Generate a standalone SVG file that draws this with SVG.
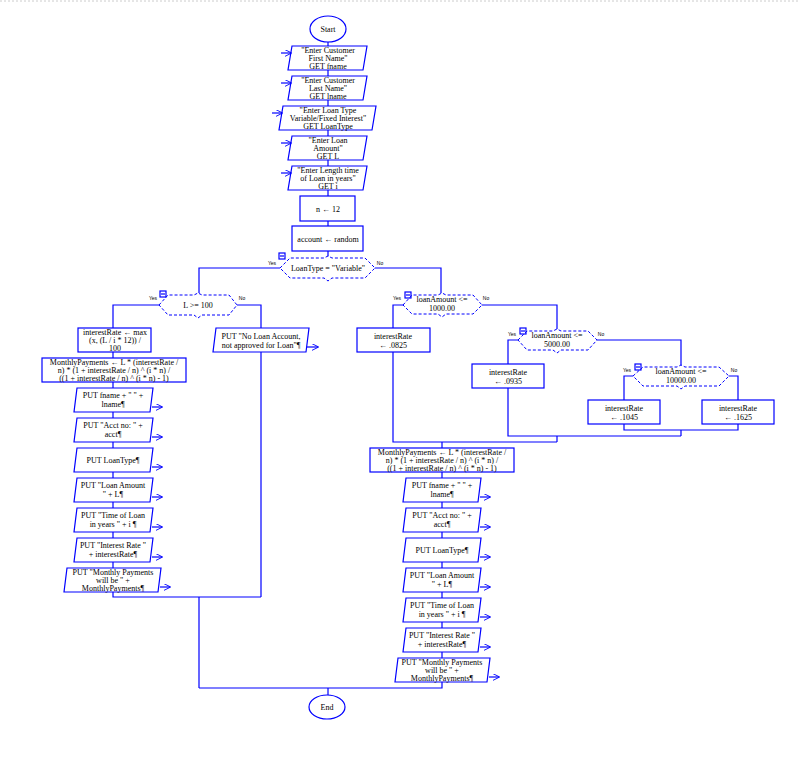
<svg xmlns="http://www.w3.org/2000/svg" width="798" height="758" viewBox="0 0 798 758">
<defs>
<marker id="ar" viewBox="0 0 10 10" refX="9" refY="5" markerWidth="7" markerHeight="7" orient="auto" markerUnits="userSpaceOnUse"><path d="M0,0 L10,5 L0,10" fill="none" stroke="#00f" stroke-width="1.3"/></marker>
</defs>
<style>
.s{fill:#fff;stroke:#00f;stroke-width:1.2}
.d{fill:#fff;stroke:#00f;stroke-width:1;stroke-dasharray:3,2}
.c{fill:none;stroke:#00f;stroke-width:1.2}
.io{fill:none;stroke:#00f;stroke-width:1.2;marker-end:url(#ar)}
text{font-family:"Liberation Serif",serif;font-size:8px;fill:#000;text-anchor:middle}
.yn{font-family:"Liberation Sans",sans-serif;font-size:5px}
</style>
<rect x="0" y="0" width="798" height="758" fill="#fff"/>
<line x1="0" y1="1" x2="798" y2="1" stroke="#ccc" stroke-dasharray="2,2"/>
<g id="start"><ellipse class="s" cx="328" cy="29" rx="18" ry="13"/><text x="328" y="32">Start</text></g>
<g id="in1"><polygon class="s" points="292,46 367,46 363,70 288,70"/><text x="328" y="53">"Enter Customer</text><text x="328" y="61">First Name"</text><text x="328" y="69">GET fname</text></g>
<g id="in2"><polygon class="s" points="292,76 367,76 363,100 288,100"/><text x="328" y="83">"Enter Customer</text><text x="328" y="91">Last Name"</text><text x="328" y="99">GET lname</text></g>
<g id="in3"><polygon class="s" points="283,106 376,106 372,130 279,130"/><text x="328" y="113">"Enter Loan Type</text><text x="328" y="121">Variable/Fixed Interest"</text><text x="328" y="129">GET LoanType</text></g>
<g id="in4"><polygon class="s" points="292,136 367,136 363,160 288,160"/><text x="328" y="143">"Enter Loan</text><text x="328" y="151">Amount"</text><text x="328" y="159">GET L</text></g>
<g id="in5"><polygon class="s" points="292,166 367,166 363,190 288,190"/><text x="328" y="173">"Enter Length time</text><text x="328" y="181">of Loan in years"</text><text x="328" y="189">GET i</text></g>
<g id="n12"><rect class="s" x="300" y="196" width="55" height="25"/><text x="328" y="212">n ← 12</text></g>
<g id="acc"><rect class="s" x="292" y="226" width="71" height="25"/><text x="328" y="242">account ← random</text></g>
<g id="dec1"><polygon class="d" points="280,268 290,258 324,258 328,256 332,258 365,258 375,268 365,278 332,278 328,281 324,278 290,278"/><rect class="c" x="279" y="253" width="6" height="6"/><path class="c" d="M280,256H284"/><text class="yn" x="272" y="265">Yes</text><text class="yn" x="380" y="265">No</text><text x="328" y="271">LoanType = "Variable"</text></g>
<g id="dec2"><polygon class="d" points="159,305 168,295 194,295 198,293 202,295 229,295 237,305 229,315 202,315 198,318 194,315 168,315"/><rect class="c" x="160" y="291" width="6" height="6"/><path class="c" d="M161,294H165"/><text class="yn" x="153" y="300">Yes</text><text class="yn" x="242" y="300">No</text><text x="198" y="308">L &gt;= 100</text></g>
<g id="ir1"><rect class="s" x="78" y="328" width="73" height="24"/><text x="115" y="335">interestRate ← max</text><text x="115" y="343">(x,  (L / i  *  12))  /</text><text x="115" y="351">100</text></g>
<g id="mp1"><rect class="s" x="42" y="358" width="144" height="24"/><text x="114" y="365">MonthlyPayments ← L  * (interestRate /</text><text x="114" y="373">n)  *  (1  +  interestRate / n) ^ (i * n)  /</text><text x="114" y="381">((1  +  interestRate / n) ^ (i * n)  -  1)</text></g>
<g id="o1"><polygon class="s" points="77,388 153,388 150,412 74,412"/><text x="113" y="398">PUT fname  +  " "  +</text><text x="113" y="407">lname¶</text></g>
<g id="o2"><polygon class="s" points="77,418 153,418 150,442 74,442"/><text x="113" y="428">PUT "Acct no: " +</text><text x="113" y="437">acct¶</text></g>
<g id="o3"><polygon class="s" points="77,448 153,448 150,472 74,472"/><text x="113" y="463">PUT LoanType¶</text></g>
<g id="o4"><polygon class="s" points="77,478 153,478 150,502 74,502"/><text x="113" y="488">PUT "Loan Amount</text><text x="113" y="497">" + L¶</text></g>
<g id="o5"><polygon class="s" points="77,508 153,508 150,532 74,532"/><text x="113" y="518">PUT "Time of Loan</text><text x="113" y="527">in years " + i ¶</text></g>
<g id="o6"><polygon class="s" points="77,538 153,538 150,562 74,562"/><text x="113" y="548">PUT "Interest Rate "</text><text x="113" y="557">+ interestRate¶</text></g>
<g id="o7"><polygon class="s" points="67,568 161,568 158,592 64,592"/><text x="113" y="575">PUT "Monthly Payments</text><text x="113" y="583">will be " +</text><text x="113" y="591">MonthlyPayments¶</text></g>
<g id="noloan"><polygon class="s" points="216,328 309,328 306,352 213,352"/><text x="261" y="339">PUT "No Loan Account,</text><text x="261" y="348">not approved for Loan"¶</text></g>
<g id="dec3"><polygon class="d" points="403,305 412,295 438,295 442,293 446,295 473,295 482,305 473,314 446,314 442,317 438,314 412,314"/><rect class="c" x="405" y="292" width="6" height="6"/><path class="c" d="M406,295H410"/><text class="yn" x="397" y="300">Yes</text><text class="yn" x="486" y="300">No</text><text x="442" y="302">loanAmount &lt;=</text><text x="442" y="311">1000.00</text></g>
<g id="ir2"><rect class="s" x="357" y="328" width="73" height="24"/><text x="393" y="339">interestRate</text><text x="393" y="348">← .0825</text></g>
<g id="dec4"><polygon class="d" points="518,340 527,331 553,331 557,329 561,331 588,331 597,340 588,350 561,350 557,353 553,350 527,350"/><rect class="c" x="520" y="328" width="6" height="6"/><path class="c" d="M521,331H525"/><text class="yn" x="512" y="336">Yes</text><text class="yn" x="601" y="336">No</text><text x="557" y="338">loanAmount &lt;=</text><text x="557" y="347">5000.00</text></g>
<g id="ir3"><rect class="s" x="472" y="364" width="72" height="24"/><text x="508" y="375">interestRate</text><text x="508" y="384">← .0935</text></g>
<g id="dec5"><polygon class="d" points="633,376 643,367 677,367 681,365 685,367 719,367 729,376 719,386 685,386 681,389 677,386 643,386"/><rect class="c" x="635" y="364" width="6" height="6"/><path class="c" d="M636,367H640"/><text class="yn" x="627" y="372">Yes</text><text class="yn" x="734" y="372">No</text><text x="681" y="374">loanAmount &lt;=</text><text x="681" y="383">10000.00</text></g>
<g id="ir4"><rect class="s" x="588" y="400" width="72" height="24"/><text x="624" y="411">interestRate</text><text x="624" y="420">← .1045</text></g>
<g id="ir5"><rect class="s" x="702" y="400" width="72" height="24"/><text x="738" y="411">interestRate</text><text x="738" y="420">← .1625</text></g>
<g id="mp2"><rect class="s" x="370" y="448" width="144" height="24"/><text x="442" y="455">MonthlyPayments ← L  * (interestRate /</text><text x="442" y="463">n)  *  (1  +  interestRate / n) ^ (i * n)  /</text><text x="442" y="471">((1  +  interestRate / n) ^ (i * n)  -  1)</text></g>
<g id="p1"><polygon class="s" points="406,478 481,478 478,502 403,502"/><text x="442" y="488">PUT fname  +  " "  +</text><text x="442" y="497">lname¶</text></g>
<g id="p2"><polygon class="s" points="406,508 481,508 478,532 403,532"/><text x="442" y="518">PUT "Acct no: " +</text><text x="442" y="527">acct¶</text></g>
<g id="p3"><polygon class="s" points="406,538 481,538 478,562 403,562"/><text x="442" y="553">PUT LoanType¶</text></g>
<g id="p4"><polygon class="s" points="406,568 481,568 478,592 403,592"/><text x="442" y="578">PUT "Loan Amount</text><text x="442" y="587">" + L¶</text></g>
<g id="p5"><polygon class="s" points="406,598 481,598 478,622 403,622"/><text x="442" y="608">PUT "Time of Loan</text><text x="442" y="617">in years " + i ¶</text></g>
<g id="p6"><polygon class="s" points="406,628 481,628 478,652 403,652"/><text x="442" y="638">PUT "Interest Rate "</text><text x="442" y="647">+ interestRate¶</text></g>
<g id="p7"><polygon class="s" points="398,658 490,658 487,682 395,682"/><text x="442" y="665">PUT "Monthly Payments</text><text x="442" y="673">will be " +</text><text x="442" y="681">MonthlyPayments¶</text></g>
<g id="end"><ellipse class="s" cx="327" cy="707" rx="18" ry="12"/><text x="327" y="710">End</text></g>
<g id="connectors">
<path class="c" d="M328,42V46 M328,70V76 M328,100V106 M328,130V136 M328,160V166 M328,190V196 M328,221V226 M328,251V256"/>
<path class="c" d="M280,268H199V293 M375,268H441V293"/>
<path class="c" d="M159,305H113V328 M113,352V358 M113,382V388 M113,412V418 M113,442V448 M113,472V478 M113,502V508 M113,532V538 M113,562V568 M113,592V597H261 M237,305H261V328 M261,352V597 M199,597V688"/>
<path class="c" d="M403,305H393V328 M482,305H557V329 M518,340H508V364 M597,340H681V365 M633,376H624V400 M729,376H738V400"/>
<path class="c" d="M624,424V430H738V424 M681,430V436 M508,388V436H681 M557,436V442 M393,352V442H557 M442,442V448"/>
<path class="c" d="M442,472V478 M442,502V508 M442,532V538 M442,562V568 M442,592V598 M442,622V628 M442,652V658 M442,682V688H199 M328,688V695"/>
<path class="io" d="M281,53H291"/><path class="io" d="M281,83H291"/><path class="io" d="M272,113H282"/><path class="io" d="M281,143H291"/><path class="io" d="M281,173H291"/>
<path class="io" d="M152,407H162"/><path class="io" d="M152,437H162"/><path class="io" d="M152,467H162"/><path class="io" d="M152,497H162"/><path class="io" d="M152,527H162"/><path class="io" d="M152,557H162"/><path class="io" d="M160,587H170"/><path class="io" d="M307,347H318"/>
<path class="io" d="M480,497H490"/><path class="io" d="M480,527H490"/><path class="io" d="M480,557H490"/><path class="io" d="M480,587H490"/><path class="io" d="M480,617H490"/><path class="io" d="M480,647H490"/><path class="io" d="M489,677H499"/>
</g>
</svg>
